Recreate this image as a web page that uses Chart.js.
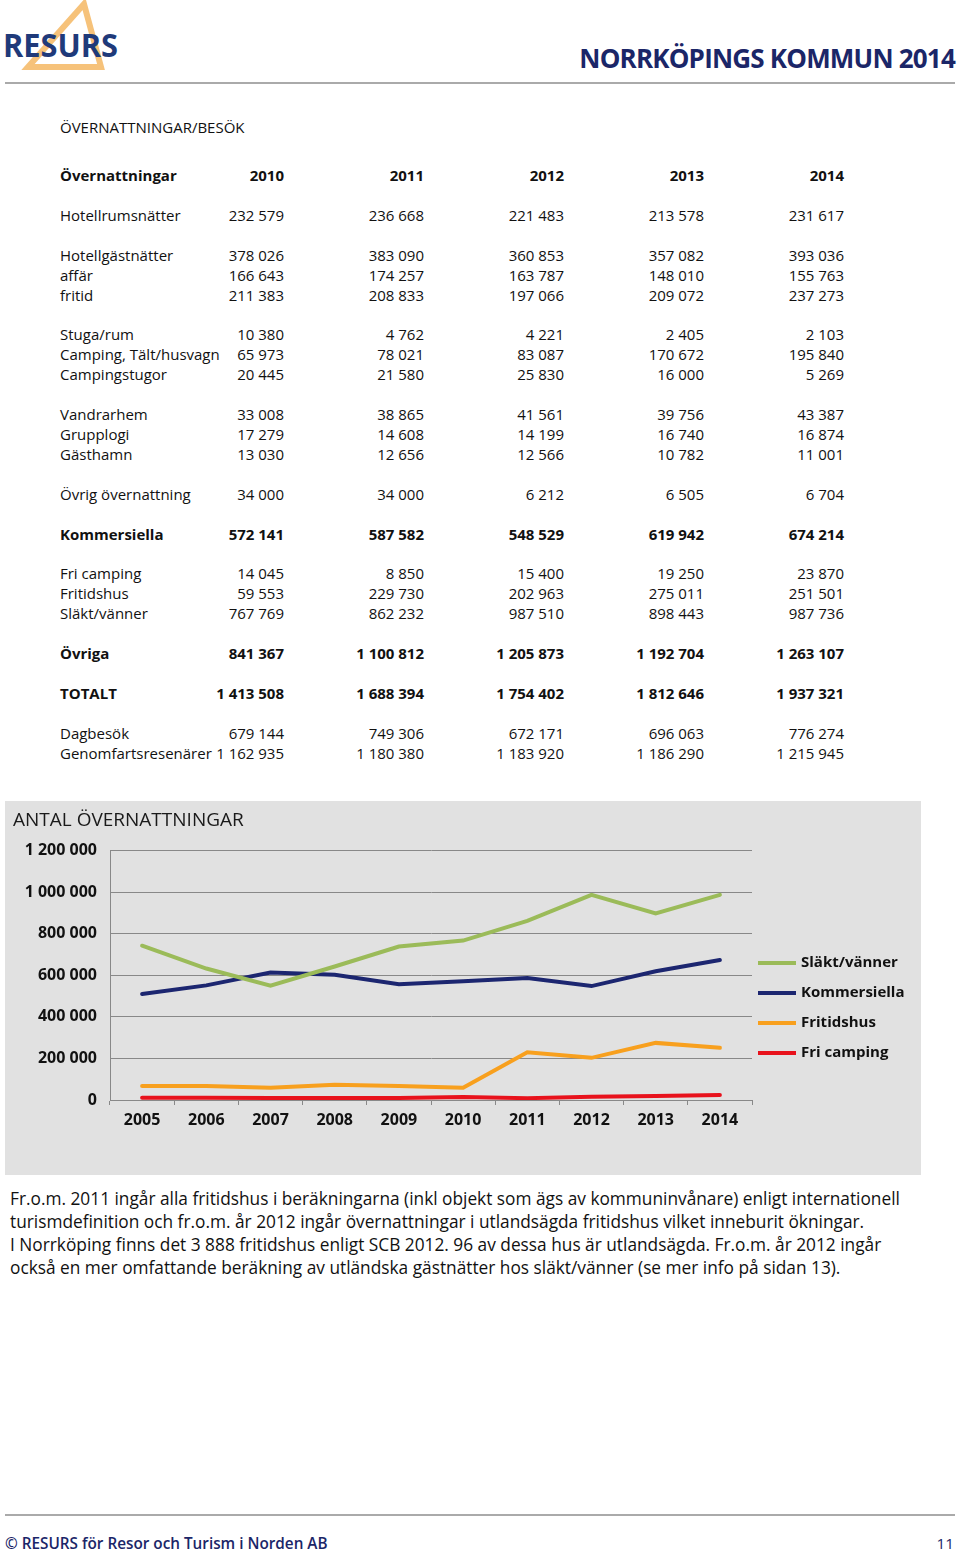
<!DOCTYPE html>
<html>
<head>
<meta charset="utf-8">
<title>Norrköpings kommun 2014</title>
<script src="https://cdn.jsdelivr.net/npm/chart.js@4.4.1/dist/chart.umd.min.js"></script>
<style>
	body { margin:0; width:960px; height:1556px; position:relative; background:#fff; font-family:"Open Sans", sans-serif; color:#111; }
	.abs { position:absolute; }
	#logo { left:0; top:0; }
	#pageTitle { right:5px; top:40px; font-size:26px; font-weight:700; color:#1b2668; letter-spacing:-0.8px; }
	.rule { left:5px; width:950px; height:2px; background:#aaa; }
	#subTitle { left:60px; top:117px; font-size:15px; }
	#tbl { left:60px; top:166px; font-size:15px; }
	.row { display:flex; height:19.93px; line-height:19.93px; white-space:nowrap; }
	.row.b { font-weight:700; }
	.c0 { width:224px; display:flex; justify-content:space-between; }
	.cn { width:140px; text-align:right; }
	#chartBox { left:5px; top:801px; width:916px; height:374px; background:#e1e1e1; }
	#note { left:10px; top:1187px; font-size:17.3px; line-height:23px; white-space:nowrap; }
	#footL { left:5px; top:1533px; font-size:15.3px; font-weight:600; color:#1b2668; }
	#footR { right:6px; top:1533px; font-size:15.3px; color:#1b2668; }
</style>
</head>
<body>
<svg id="logo" class="abs" width="130" height="75">
	<polygon points="84,4 28,67 101,67" fill="none" stroke="#f6c27a" stroke-width="6" stroke-linejoin="miter"/>
	<text x="3" y="57" font-family="Open Sans" font-weight="700" font-size="33" fill="#1f3a7a" textLength="115" lengthAdjust="spacingAndGlyphs">RESURS</text>
</svg>
<div id="pageTitle" class="abs">NORRKÖPINGS KOMMUN 2014</div>
<div class="abs rule" style="top:82px"></div>
<div id="subTitle" class="abs">ÖVERNATTNINGAR/BESÖK</div>
<div id="tbl" class="abs"></div>

<div id="chartBox" class="abs"><canvas id="lineChart"></canvas></div>

<div id="note" class="abs">
Fr.o.m. 2011 ingår alla fritidshus i beräkningarna (inkl objekt som ägs av kommuninvånare) enligt internationell<br>
turismdefinition och fr.o.m. år 2012 ingår övernattningar i utlandsägda fritidshus vilket inneburit ökningar.<br>
I Norrköping finns det 3 888 fritidshus enligt SCB 2012. 96 av dessa hus är utlandsägda. Fr.o.m. år 2012 ingår<br>
också en mer omfattande beräkning av utländska gästnätter hos släkt/vänner (se mer info på sidan 13).
</div>

<div class="abs rule" style="top:1514px"></div>
<div id="footL" class="abs">© RESURS för Resor och Turism i Norden AB</div>
<div id="footR" class="abs">11</div>

<script>
// table (null = empty row)
var TABLE_ROWS = [
	["Övernattningar", ["2010","2011","2012","2013","2014"], true],
	null,
	["Hotellrumsnätter", ["232 579","236 668","221 483","213 578","231 617"]],
	null,
	["Hotellgästnätter", ["378 026","383 090","360 853","357 082","393 036"]],
	["affär", ["166 643","174 257","163 787","148 010","155 763"]],
	["fritid", ["211 383","208 833","197 066","209 072","237 273"]],
	null,
	["Stuga/rum", ["10 380","4 762","4 221","2 405","2 103"]],
	["Camping, Tält/husvagn", ["65 973","78 021","83 087","170 672","195 840"]],
	["Campingstugor", ["20 445","21 580","25 830","16 000","5 269"]],
	null,
	["Vandrarhem", ["33 008","38 865","41 561","39 756","43 387"]],
	["Grupplogi", ["17 279","14 608","14 199","16 740","16 874"]],
	["Gästhamn", ["13 030","12 656","12 566","10 782","11 001"]],
	null,
	["Övrig övernattning", ["34 000","34 000","6 212","6 505","6 704"]],
	null,
	["Kommersiella", ["572 141","587 582","548 529","619 942","674 214"], true],
	null,
	["Fri camping", ["14 045","8 850","15 400","19 250","23 870"]],
	["Fritidshus", ["59 553","229 730","202 963","275 011","251 501"]],
	["Släkt/vänner", ["767 769","862 232","987 510","898 443","987 736"]],
	null,
	["Övriga", ["841 367","1 100 812","1 205 873","1 192 704","1 263 107"], true],
	null,
	["TOTALT", ["1 413 508","1 688 394","1 754 402","1 812 646","1 937 321"], true],
	null,
	["Dagbesök", ["679 144","749 306","672 171","696 063","776 274"]],
	["Genomfartsresenärer", ["1 162 935","1 180 380","1 183 920","1 186 290","1 215 945"]]
];

var html = "";
TABLE_ROWS.forEach(function(r) {
	if (!r) { html += '<div class="row"></div>'; return; }
	html += '<div class="row' + (r[2] ? ' b' : '') + '"><div class="c0"><span>' + r[0] + '</span><span>' + r[1][0] + '</span></div>';
	for (var i = 1; i < r[1].length; i++) html += '<div class="cn">' + r[1][i] + '</div>';
	html += '</div>';
});
document.getElementById("tbl").innerHTML = html;

// chart data
var YEARS = ["2005","2006","2007","2008","2009","2010","2011","2012","2013","2014"];
var SLAKT_VANNER = [743000, 633000, 550000, 643000, 739000, 767769, 862232, 987510, 898443, 987736];
var KOMMERSIELLA = [510000, 552000, 614000, 603000, 557000, 572141, 587582, 548529, 619942, 674214];
var FRITIDSHUS = [67000, 67000, 59000, 74000, 67000, 59553, 229730, 202963, 275011, 251501];
var FRI_CAMPING = [11000, 11000, 10000, 10000, 10000, 14045, 8850, 15400, 19250, 23870];
var Y_TICKS = [0, 200000, 400000, 600000, 800000, 1000000, 1200000];

function fmt(v) {
	return String(v).replace(/\B(?=(\d{3})+(?!\d))/g, " ");
}

var legendPlugin = {
	id: "sideLegend",
	afterDraw: function(chart) {
		var ctx = chart.ctx;
		ctx.save();
		chart.data.datasets.forEach(function(ds, i) {
			var y = 162 + i * 30;
			ctx.strokeStyle = ds.borderColor;
			ctx.lineWidth = 4;
			ctx.beginPath();
			ctx.moveTo(753, y);
			ctx.lineTo(791, y);
			ctx.stroke();
			ctx.fillStyle = "#111";
			ctx.font = "bold 15px 'Open Sans'";
			ctx.textBaseline = "middle";
			ctx.fillText(ds.label, 796, y);
		});
		ctx.restore();
	}
};

var ctxL = document.getElementById("lineChart").getContext("2d");
var myLineChart = new Chart(ctxL, {
	type: "line",
	data: {
		labels: YEARS,
		datasets: [
			{ label: "Släkt/vänner", data: SLAKT_VANNER, borderColor: "#9bbb59" },
			{ label: "Kommersiella", data: KOMMERSIELLA, borderColor: "#1c2670" },
			{ label: "Fritidshus", data: FRITIDSHUS, borderColor: "#f8a01e" },
			{ label: "Fri camping", data: FRI_CAMPING, borderColor: "#e8121c" }
		]
	},
	options: {
		responsive: true,
		maintainAspectRatio: false,
		animation: false,
		layout: { padding: { left: 8, top: 8, right: 169, bottom: 0 } },
		elements: {
			line: { borderWidth: 4, tension: 0, fill: false, borderCapStyle: "round" },
			point: { radius: 0, hoverRadius: 0 }
		},
		plugins: {
			legend: { display: false },
			tooltip: { enabled: false },
			title: {
				display: true,
				text: "ANTAL ÖVERNATTNINGAR",
				align: "start",
				color: "#1a1a1a",
				font: { family: "'Open Sans'", size: 19, weight: "normal" },
				padding: { top: 0, bottom: 19 },
				fullSize: true
			}
		},
		scales: {
			x: {
				offset: true,
				grid: { offset: true, drawOnChartArea: false, drawTicks: true, tickLength: 5, color: "#888" },
				border: { color: "#888" },
				ticks: { color: "#111", padding: 6, font: { family: "'Open Sans'", size: 16, weight: "bold" } },
				afterFit: function(s) { s.height = 75; }
			},
			y: {
				min: 0,
				max: 1200000,
				afterBuildTicks: function(s) { s.ticks = Y_TICKS.map(function(v) { return { value: v }; }); },
				grid: { color: "#888", drawTicks: false },
				border: { color: "#888" },
				ticks: {
					color: "#111",
					padding: 13,
					font: { family: "'Open Sans'", size: 16, weight: "bold" },
					callback: function(v) { return fmt(v); }
				},
				afterFit: function(s) { s.width = 97; }
			}
		}
	},
	plugins: [legendPlugin]
});
</script>
</body>
</html>
